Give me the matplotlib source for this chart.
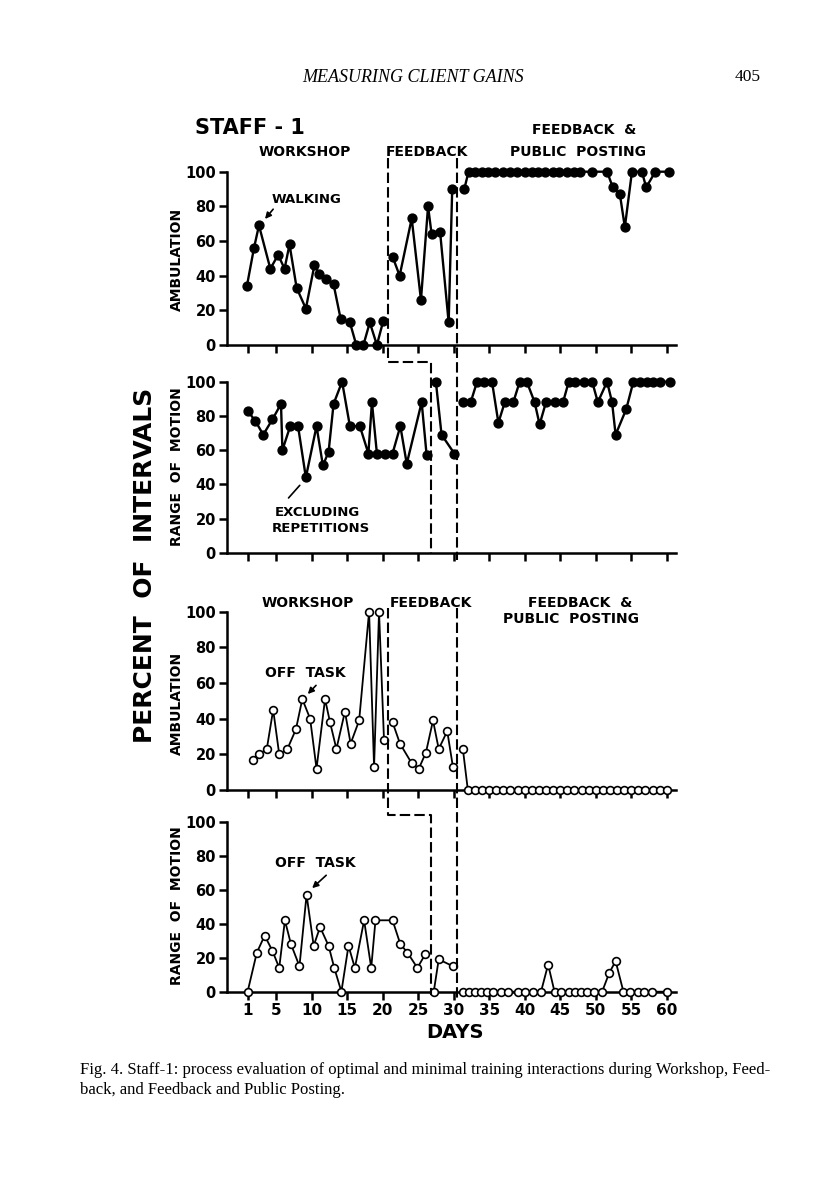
import numpy as np
import matplotlib
matplotlib.use('Agg')
import matplotlib.pyplot as plt
import matplotlib.transforms as mtransforms
from matplotlib.lines import Line2D

# ---------------- data ----------------
# panel 1: ambulation, walking (filled)
walk_day = [0.9, 1.9, 2.6, 4.2, 5.3, 6.2, 6.9, 7.9, 9.2, 10.4, 11.1, 12.0, 13.1, 14.1,
            15.4, 16.3, 17.3, 18.2, 19.2, 20.1,
            21.4, 22.4, 24.1, 25.4, 26.4, 26.9, 28.1, 29.3, 29.8,
            31.5, 32.1, 33.0, 34.0, 34.9, 35.8, 37.0, 37.9, 38.9, 40.1, 41.0, 41.9,
            42.9, 44.0, 44.9, 45.9, 46.9, 47.8, 49.5, 51.6, 52.4, 53.4, 54.1, 55.1,
            56.5, 57.1, 58.4, 60.3]
walk_val = [34, 56, 69, 44, 52, 44, 58, 33, 21, 46, 41, 38, 35, 15,
            13, 0, 0, 13, 0, 14,
            51, 40, 73, 26, 80, 64, 65, 13, 90,
            90, 100, 100, 100, 100, 100, 100, 100, 100, 100, 100, 100,
            100, 100, 100, 100, 100, 100, 100, 100, 91, 87, 68, 100,
            100, 91, 100, 100]

# panel 2: range of motion, excluding repetitions (filled)
rom_day = [1.0, 2.1, 3.2, 4.5, 5.7, 5.9, 7.0, 8.1, 9.2, 10.7,
           11.6, 12.4, 13.1, 14.3, 15.4, 16.8, 18.0, 18.5, 19.2, 20.3,
           21.4, 22.5, 23.4, 25.5, 26.2, 27.5, 28.3, 30.1,
           31.3, 32.4, 33.3, 34.3, 35.4, 36.3, 37.2, 38.4, 39.3, 40.3,
           41.4, 42.1, 43.0, 44.2, 45.4, 46.2, 47.1, 48.3, 49.5, 50.3,
           51.6, 52.3, 52.8, 54.3, 55.3, 56.3, 57.2, 58.1, 59.1, 60.4]
rom_val = [83, 77, 69, 78, 87, 60, 74, 74, 44, 74,
           51, 59, 87, 100, 74, 74, 58, 88, 58, 58,
           58, 74, 52, 88, 57, 100, 69, 58,
           88, 88, 100, 100, 100, 76, 88, 88, 100, 100,
           88, 75, 88, 88, 88, 100, 100, 100, 100, 88,
           100, 88, 69, 84, 100, 100, 100, 100, 100, 100]

# panel 3: ambulation, off task (open)
offamb_day = [1.7, 2.6, 3.7, 4.6, 5.45, 6.6, 7.8, 8.7, 9.8, 10.7, 11.9, 12.6, 13.5,
              14.7, 15.5, 16.7, 18.1, 18.8, 19.5, 20.2,
              21.4, 22.45, 24.1, 25.1, 26.1, 27.1, 27.9, 29.1, 29.9,
              31.3, 32, 33, 34, 35, 36, 37, 38, 39, 40, 41, 42, 43, 44, 45, 46,
              47, 48, 49, 50, 51, 52, 53, 54, 55, 56, 57, 58, 59, 60]
offamb_val = [17, 20, 23, 45, 20, 23, 34, 51, 40, 12, 51, 38, 23,
              44, 26, 39, 100, 13, 100, 28,
              38, 26, 15, 12, 21, 39, 23, 33, 13,
              23, 0, 0, 0, 0, 0, 0, 0, 0, 0, 0, 0, 0, 0, 0, 0,
              0, 0, 0, 0, 0, 0, 0, 0, 0, 0, 0, 0, 0, 0]

# panel 4: range of motion, off task (open)
offrom_day = [1.0, 2.3, 3.4, 4.5, 5.45, 6.25, 7.1, 8.3, 9.3, 10.3, 11.2, 12.4, 13.2,
              14.2, 15.2, 16.1, 17.4, 18.4, 19.0, 21.4, 22.5, 23.5, 24.9, 26.0,
              27.2, 27.9, 29.9,
              31.3, 32.1, 33.0, 33.8, 34.7, 35.5, 36.7, 37.6, 39.0, 40.1, 41.2,
              42.3, 43.3, 44.2, 45.1, 46.2, 47.1, 47.9, 48.8, 49.8, 50.9, 51.9,
              52.8, 53.9, 54.8, 55.9, 56.8, 57.9, 60.0]
offrom_val = [0, 23, 33, 24, 14, 42, 28, 15, 57, 27, 38, 27, 14,
              0, 27, 14, 42, 14, 42, 42, 28, 23, 14, 22,
              0, 19, 15,
              0, 0, 0, 0, 0, 0, 0, 0, 0, 0, 0,
              0, 16, 0, 0, 0, 0, 0, 0, 0, 0, 11,
              18, 0, 0, 0, 0, 0, 0]

# phase changes (days): workshop->feedback, staggered, feedback->posting
phase_walk = [20.8, 30.5]
phase_rom = [26.8, 30.5]

day_ticks = [1, 5, 10, 15, 20, 25, 30, 35, 40, 45, 50, 55, 60]
day_ticklabels = ['1', '5', '10', '15', '20', '25', '30', '35', '40', '45', '50', '55', '60']
y_ticks = [0, 20, 40, 60, 80, 100]

# ---------------- layout ----------------
W, H = 816, 1195
fig = plt.figure(figsize=(W / 100, H / 100), dpi=100)
fig.patch.set_facecolor('white')

LEFT, RIGHT = 227, 676


def rect(y0, y100):
    return [LEFT / W, 1 - y0 / H, (RIGHT - LEFT) / W, (y0 - y100) / H]


def fy(y):
    return 1 - y / H


def style(ax, labels=False):
    ax.set_xlim(-1.9, 61.3)
    ax.set_ylim(0, 100)
    ax.patch.set_visible(False)
    for s in ['top', 'right']:
        ax.spines[s].set_visible(False)
    for s in ['left', 'bottom']:
        ax.spines[s].set_linewidth(1.8)
    ax.set_yticks(y_ticks)
    ax.set_xticks(day_ticks)
    ax.tick_params(direction='out', length=6, width=1.8, labelsize=10.5, pad=2)
    for t in ax.get_yticklabels():
        t.set_fontweight('bold')
    if labels:
        ax.set_xticklabels(day_ticklabels, fontsize=11, fontweight='bold')
    else:
        ax.set_xticklabels([])


def plot_phases(ax, days, vals, bounds, filled):
    days = np.asarray(days)
    vals = np.asarray(vals)
    seg = np.digitize(days, bounds)
    for k in np.unique(seg):
        m = seg == k
        if filled:
            ax.plot(days[m], vals[m], '-o', color='k', lw=1.7, ms=6.4,
                    mfc='k', mec='k', clip_on=False, zorder=3)
        else:
            ax.plot(days[m], vals[m], '-o', color='k', lw=1.3, ms=5.6,
                    mfc='white', mec='k', mew=1.2, clip_on=False, zorder=3)


ax1 = fig.add_axes(rect(345, 171.7))
ax2 = fig.add_axes(rect(552.7, 381.7))
ax3 = fig.add_axes(rect(790, 611.7))
ax4 = fig.add_axes(rect(991.7, 821.7))

plot_phases(ax1, walk_day, walk_val, phase_walk, True)
plot_phases(ax2, rom_day, rom_val, phase_rom, True)
plot_phases(ax3, offamb_day, offamb_val, phase_walk, False)
plot_phases(ax4, offrom_day, offrom_val, phase_rom, False)

for ax in (ax1, ax2, ax3):
    style(ax)
style(ax4, labels=True)

# dashed phase-change lines spanning panels
tr = mtransforms.blended_transform_factory(ax1.transData, fig.transFigure)
dash = dict(color='k', lw=1.5, linestyle=(0, (5, 2)), transform=tr)
fig.add_artist(Line2D([phase_walk[0], phase_walk[0], phase_rom[0], phase_rom[0]],
                      [fy(158), fy(362), fy(362), fy(553)], **dash))
fig.add_artist(Line2D([phase_walk[1], phase_walk[1]], [fy(158), fy(560)], **dash))
fig.add_artist(Line2D([phase_walk[0], phase_walk[0], phase_rom[0], phase_rom[0]],
                      [fy(608), fy(815), fy(815), fy(995)], **dash))
fig.add_artist(Line2D([phase_walk[1], phase_walk[1]], [fy(608), fy(1000)], **dash))

# annotations
bold = dict(fontweight='bold', color='k')
ax1.text(4.4, 84, 'WALKING', fontsize=9.5, ha='left', va='center', **bold)
ax1.annotate('', xy=(3.2, 71.5), xytext=(4.85, 79.6),
             arrowprops=dict(arrowstyle='-|>', lw=1.2, color='k', mutation_scale=9))
ax2.text(4.85, 23.8, 'EXCLUDING', fontsize=9.5, ha='left', va='center', **bold)
ax2.text(4.4, 14.4, 'REPETITIONS', fontsize=9.5, ha='left', va='center', **bold)
ax2.annotate('', xy=(8.6, 40.6), xytext=(6.5, 30.8),
             arrowprops=dict(arrowstyle='-', lw=1.2, color='k'))
ax3.text(3.4, 65.5, 'OFF  TASK', fontsize=10, ha='left', va='center', **bold)
ax3.annotate('', xy=(9.2, 52.7), xytext=(10.9, 59.8),
             arrowprops=dict(arrowstyle='-|>', lw=1.2, color='k', mutation_scale=9))
ax4.text(4.85, 75.7, 'OFF  TASK', fontsize=10, ha='left', va='center', **bold)
ax4.annotate('', xy=(9.8, 59.8), xytext=(12.35, 69.6),
             arrowprops=dict(arrowstyle='-|>', lw=1.2, color='k', mutation_scale=9))

# axis labels
fig.text(177 / W, fy(259), 'AMBULATION', rotation=90, ha='center', va='center', fontsize=10, **bold)
fig.text(177 / W, fy(467), 'RANGE  OF  MOTION', rotation=90, ha='center', va='center', fontsize=10, **bold)
fig.text(177 / W, fy(703), 'AMBULATION', rotation=90, ha='center', va='center', fontsize=10, **bold)
fig.text(177 / W, fy(906), 'RANGE  OF  MOTION', rotation=90, ha='center', va='center', fontsize=10, **bold)
fig.text(145 / W, fy(565), 'PERCENT  OF  INTERVALS', rotation=90, ha='center', va='center',
         fontsize=18, **bold)
fig.text(455 / W, fy(1033), 'DAYS', ha='center', va='center', fontsize=14, **bold)

# phase titles
fig.text(195 / W, fy(128), 'STAFF - 1', ha='left', va='center', fontsize=15, **bold)
fig.text(305 / W, fy(152), 'WORKSHOP', ha='center', va='center', fontsize=10, **bold)
fig.text(427 / W, fy(152), 'FEEDBACK', ha='center', va='center', fontsize=10, **bold)
fig.text(584 / W, fy(130), 'FEEDBACK  &', ha='center', va='center', fontsize=10, **bold)
fig.text(578 / W, fy(152), 'PUBLIC  POSTING', ha='center', va='center', fontsize=10, **bold)
fig.text(308 / W, fy(603), 'WORKSHOP', ha='center', va='center', fontsize=10, **bold)
fig.text(431 / W, fy(603), 'FEEDBACK', ha='center', va='center', fontsize=10, **bold)
fig.text(580 / W, fy(603), 'FEEDBACK  &', ha='center', va='center', fontsize=10, **bold)
fig.text(571 / W, fy(619), 'PUBLIC  POSTING', ha='center', va='center', fontsize=10, **bold)

# page header and caption
fig.text(413 / W, fy(77), 'MEASURING CLIENT GAINS', ha='center', va='center',
         fontsize=13, family='Liberation Serif', style='italic')
fig.text(748 / W, fy(77), '405', ha='center', va='center', fontsize=12.5, family='Liberation Serif')
fig.text(80 / W, fy(1070), 'Fig. 4. Staff-1: process evaluation of optimal and minimal training '
         'interactions during Workshop, Feed-', ha='left', va='center', fontsize=12,
         family='Liberation Serif')
fig.text(80 / W, fy(1090), 'back, and Feedback and Public Posting.', ha='left', va='center',
         fontsize=12, family='Liberation Serif')

fig.savefig('out.png', dpi=100, facecolor='white')
